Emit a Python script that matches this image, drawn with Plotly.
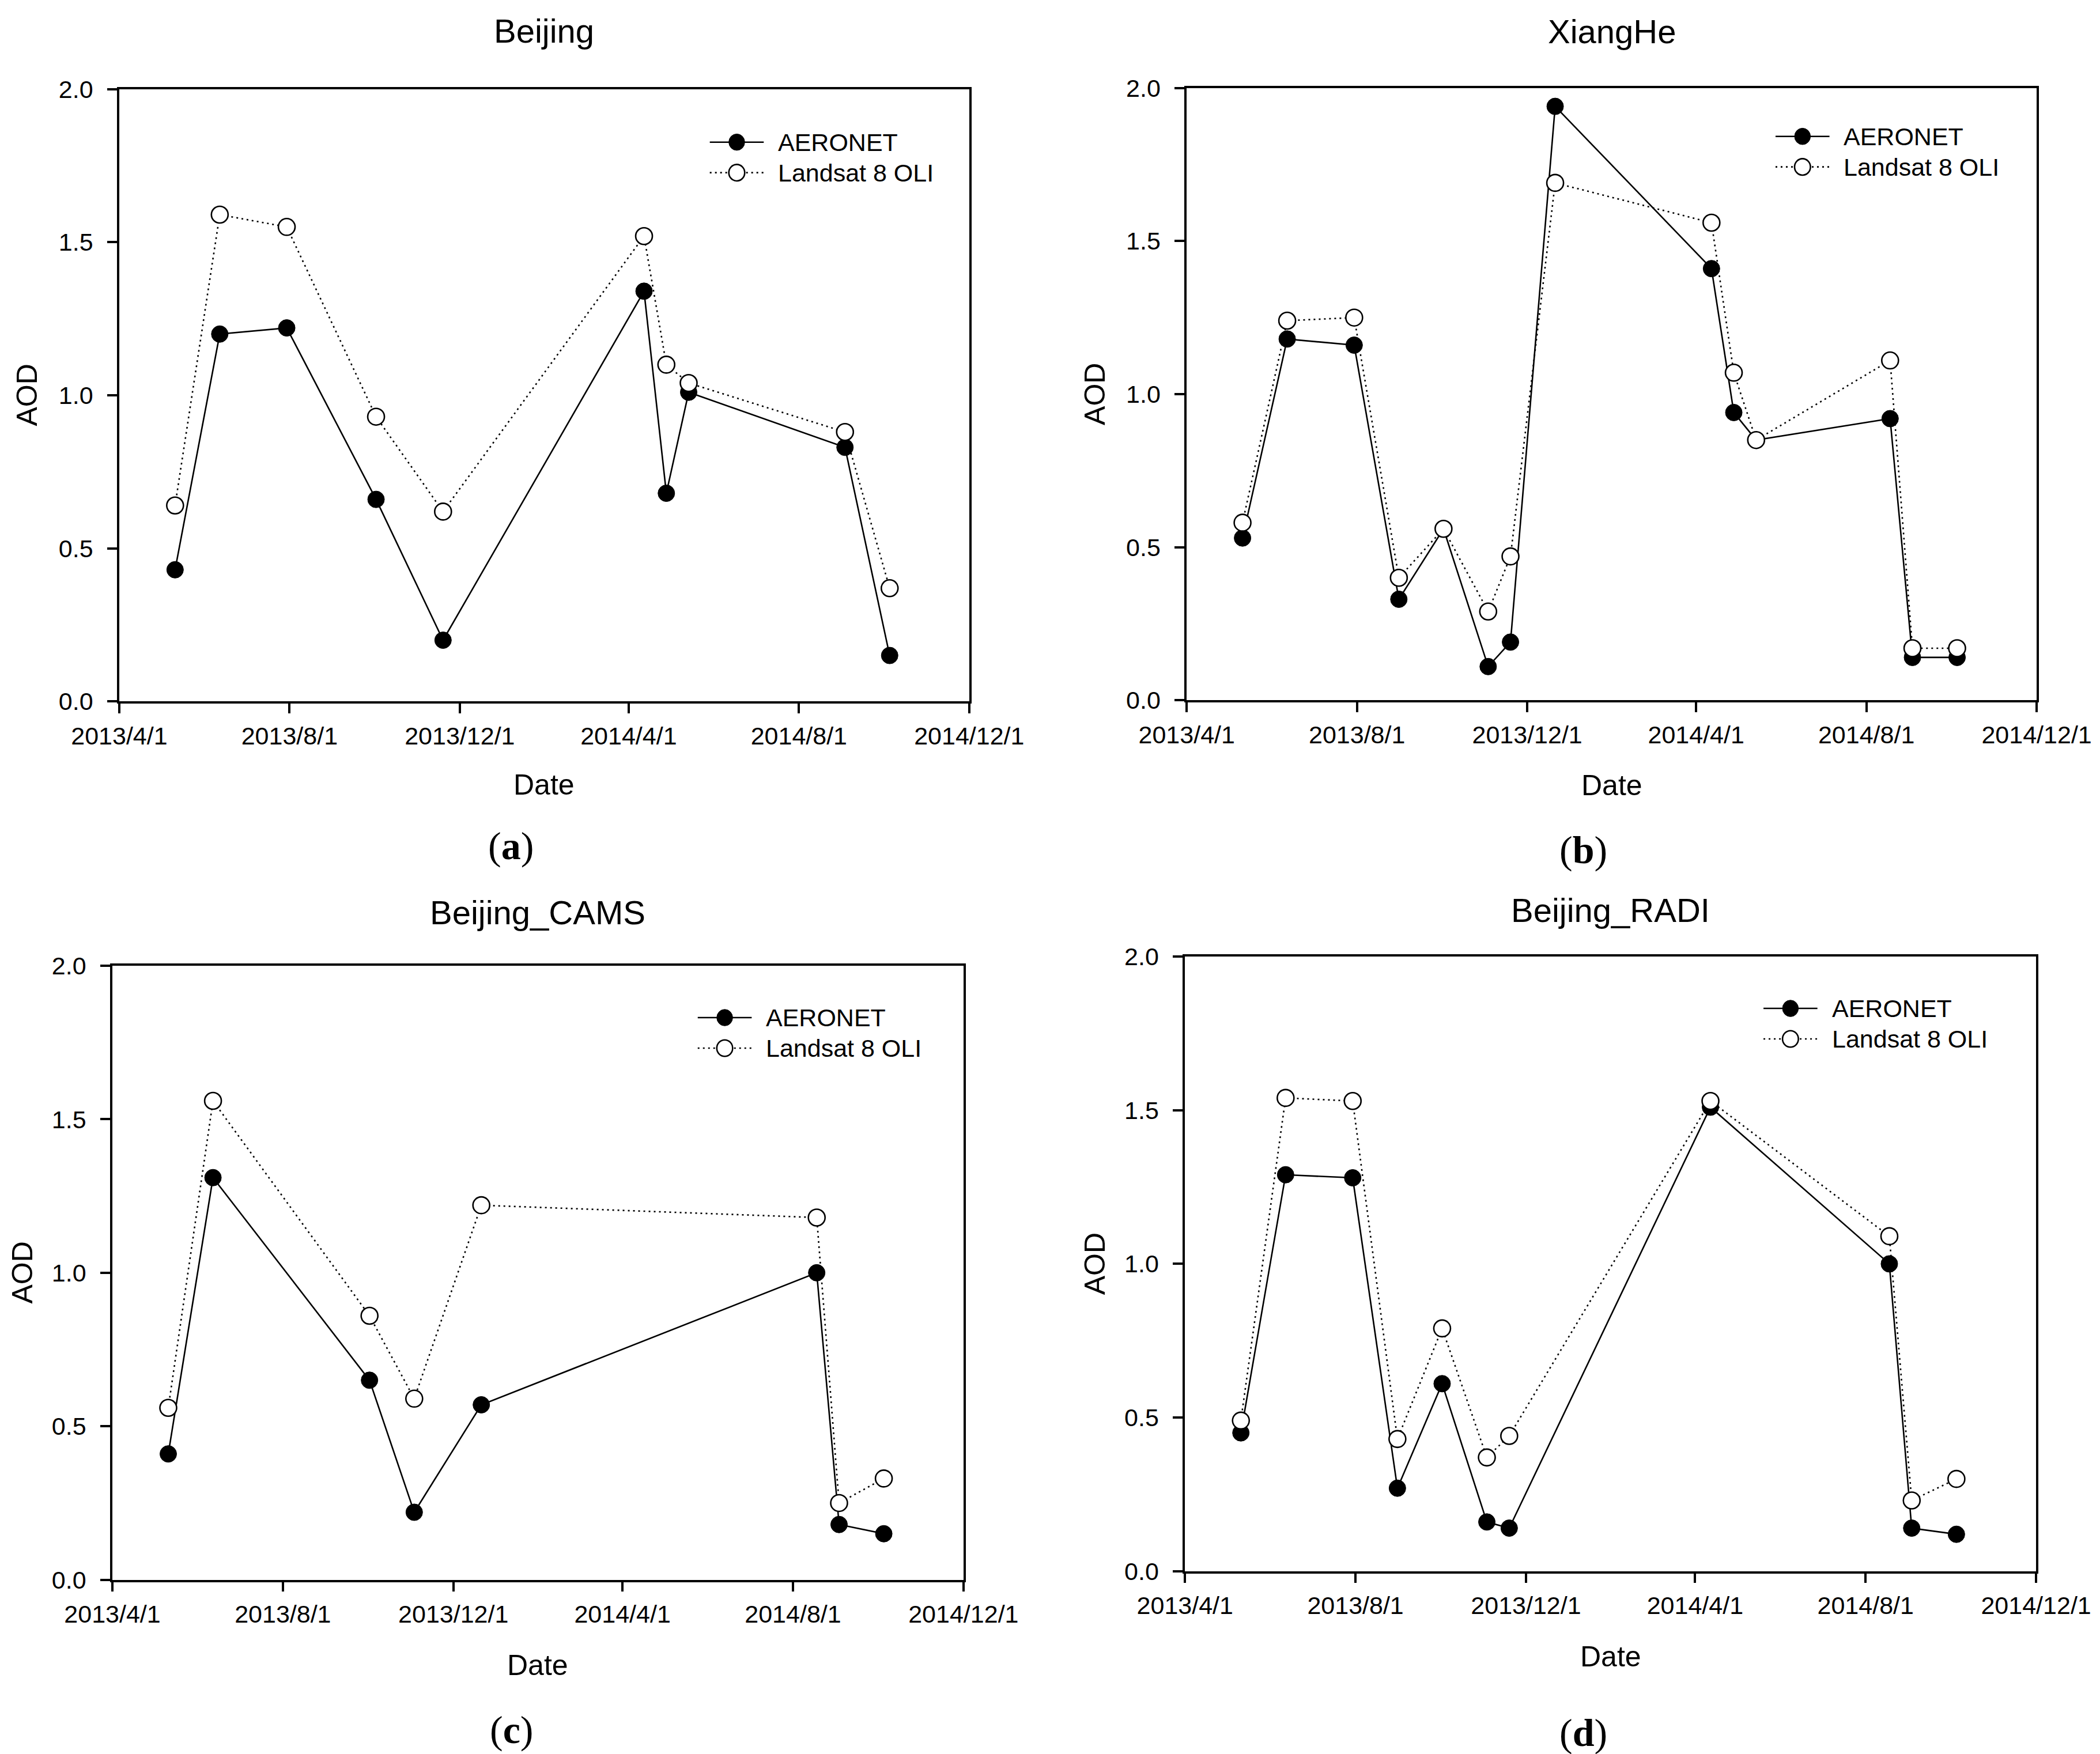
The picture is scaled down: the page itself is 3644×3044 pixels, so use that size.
import plotly.graph_objects as go

W, H = 3644, 3044

# tick labels shared by all four panels
tick_dates = ["2013-04-01", "2013-08-01", "2013-12-01", "2014-04-01", "2014-08-01", "2014-12-01"]
tick_text = ["2013/4/1", "2013/8/1", "2013/12/1", "2014/4/1", "2014/8/1", "2014/12/1"]
aod_ticks = [0.0, 0.5, 1.0, 1.5, 2.0]
series_names = ["AERONET", "Landsat 8 OLI"]

# (a) Beijing
dates_a = ["2013-05-11", "2013-06-12", "2013-07-30", "2013-10-02", "2013-11-19",
           "2014-04-12", "2014-04-28", "2014-05-14", "2014-09-03", "2014-10-05"]
aeronet_a = [0.43, 1.20, 1.22, 0.66, 0.20, 1.34, 0.68, 1.01, 0.83, 0.15]
landsat_a = [0.64, 1.59, 1.55, 0.93, 0.62, 1.52, 1.10, 1.04, 0.88, 0.37]

# (b) XiangHe
dates_b = ["2013-05-11", "2013-06-12", "2013-07-30", "2013-08-31", "2013-10-02",
           "2013-11-03", "2013-11-19", "2013-12-21", "2014-04-12", "2014-04-28",
           "2014-05-14", "2014-08-18", "2014-09-03", "2014-10-05"]
aeronet_b = [0.53, 1.18, 1.16, 0.33, 0.56, 0.11, 0.19, 1.94, 1.41, 0.94, 0.85, 0.92, 0.14, 0.14]
landsat_b = [0.58, 1.24, 1.25, 0.40, 0.56, 0.29, 0.47, 1.69, 1.56, 1.07, 0.85, 1.11, 0.17, 0.17]

# (c) Beijing_CAMS
dates_c = ["2013-05-11", "2013-06-12", "2013-10-02", "2013-11-03", "2013-12-21",
           "2014-08-18", "2014-09-03", "2014-10-05"]
aeronet_c = [0.41, 1.31, 0.65, 0.22, 0.57, 1.00, 0.18, 0.15]
landsat_c = [0.56, 1.56, 0.86, 0.59, 1.22, 1.18, 0.25, 0.33]

# (d) Beijing_RADI
dates_d = ["2013-05-11", "2013-06-12", "2013-07-30", "2013-08-31", "2013-10-02",
           "2013-11-03", "2013-11-19", "2014-04-12", "2014-08-18", "2014-09-03", "2014-10-05"]
aeronet_d = [0.45, 1.29, 1.28, 0.27, 0.61, 0.16, 0.14, 1.51, 1.00, 0.14, 0.12]
landsat_d = [0.49, 1.54, 1.53, 0.43, 0.79, 0.37, 0.44, 1.53, 1.09, 0.23, 0.30]

panels = [
    ("Beijing", "a", dates_a, aeronet_a, landsat_a),
    ("XiangHe", "b", dates_b, aeronet_b, landsat_b),
    ("Beijing_CAMS", "c", dates_c, aeronet_c, landsat_c),
    ("Beijing_RADI", "d", dates_d, aeronet_d, landsat_d),
]

# layout measured on the source picture (pixels): left, right, top, bottom of each box
boxes = [(204, 1685, 153, 1216), (2064, 3545, 151, 1214),
         (192, 1675, 1675, 2741), (2061, 3544, 1659, 2726)]
title_y = [52, 53, 1582, 1578]
date_y = [1361, 1362, 2889, 2874]
label_pos = [(886, 1467), (2755, 1474), (888, 3001), (2755, 3006)]
aod_x = [43, 1904, 35, 1904]
legend_off = [(405, 92), (408, 84), (416, 90), (428, 90)]

# the page is shown slightly shrunk and offset, so map source pixels onto the figure
SX, OX = 1.0476, -92.8
SY, OY = 1.0156, -30.7

SANS = "Liberation Sans, Arial, sans-serif"
SERIF = "Liberation Serif, Times New Roman, serif"
MS = 29


def fx(p):
    return (SX * p + OX) / W


def fy(p):
    return 1 - (SY * p + OY) / H


fig = go.Figure()
annotations = []
shapes = []

for i, (name, letter, dates, aer, lan) in enumerate(panels):
    n = "" if i == 0 else str(i + 1)
    fig.add_trace(go.Scatter(
        x=dates, y=aer, name=series_names[0], mode="lines+markers",
        line=dict(color="black", width=2.6),
        marker=dict(symbol="circle", size=MS, color="black", line=dict(color="black", width=1)),
        xaxis="x" + n, yaxis="y" + n, showlegend=False))
    fig.add_trace(go.Scatter(
        x=dates, y=lan, name=series_names[1], mode="lines+markers",
        line=dict(color="black", width=2.6, dash="3px,6px"),
        marker=dict(symbol="circle", size=MS, color="white", line=dict(color="black", width=2.6)),
        xaxis="x" + n, yaxis="y" + n, showlegend=False))

    l, r, t, b = boxes[i]
    axis_common = dict(showline=True, linecolor="black", linewidth=3.5, mirror=True,
                       ticks="outside", ticklen=17, tickwidth=3.5, tickcolor="black",
                       showgrid=False, zeroline=False,
                       tickfont=dict(family=SANS, size=43, color="black"))
    fig.update_layout(**{
        "xaxis" + n: dict(axis_common, domain=[fx(l), fx(r)], anchor="y" + n,
                          type="date", range=[tick_dates[0], tick_dates[-1]],
                          tickvals=tick_dates, ticktext=tick_text, ticklabelstandoff=2),
        "yaxis" + n: dict(axis_common, domain=[fy(b), fy(t)], anchor="x" + n,
                          range=[0, 2.0], tickvals=aod_ticks, tickformat=".1f",
                          ticklabelstandoff=16),
    })

    # legend in the upper right of each panel
    ox, oy = legend_off[i]
    mx = r - ox
    for k, sname in enumerate(series_names):
        my = t + oy + 53 * k
        shapes.append(dict(type="line", xref="paper", yref="paper",
                           x0=fx(mx - 47), x1=fx(mx + 47), y0=fy(my), y1=fy(my),
                           line=dict(color="black", width=2.6,
                                     dash="solid" if k == 0 else "3px,6px")))
        shapes.append(dict(type="circle", xref="paper", yref="paper",
                           x0=(SX * mx + OX - MS / 2) / W, x1=(SX * mx + OX + MS / 2) / W,
                           y0=1 - (SY * my + OY + MS / 2) / H, y1=1 - (SY * my + OY - MS / 2) / H,
                           fillcolor="black" if k == 0 else "white",
                           line=dict(color="black", width=1 if k == 0 else 2.6)))
        annotations.append(dict(text=sname, x=fx(mx + 70), y=fy(my), xref="paper", yref="paper",
                                showarrow=False, xanchor="left", yanchor="middle",
                                font=dict(family=SANS, size=43, color="black")))

    cx = (l + r) / 2
    annotations.append(dict(text=name, x=fx(cx), y=fy(title_y[i]), xref="paper", yref="paper",
                            showarrow=False, xanchor="center", yanchor="middle",
                            font=dict(family=SANS, size=58, color="black")))
    annotations.append(dict(text="Date", x=fx(cx), y=fy(date_y[i]), xref="paper", yref="paper",
                            showarrow=False, xanchor="center", yanchor="middle",
                            font=dict(family=SANS, size=50, color="black")))
    annotations.append(dict(text="AOD", x=fx(aod_x[i]), y=fy((t + b) / 2),
                            xref="paper", yref="paper", showarrow=False, textangle=-90,
                            xanchor="center", yanchor="middle",
                            font=dict(family=SANS, size=50, color="black")))
    lx, ly = label_pos[i]
    annotations.append(dict(text="(<b>" + letter + "</b>)", x=fx(lx), y=fy(ly), xref="paper",
                            yref="paper", showarrow=False, xanchor="center", yanchor="middle",
                            font=dict(family=SERIF, size=68, color="black")))

fig.update_layout(width=W, height=H, margin=dict(l=0, r=0, t=0, b=0),
                  paper_bgcolor="white", plot_bgcolor="white",
                  annotations=annotations, shapes=shapes, showlegend=False)

fig.write_html("out.html")
